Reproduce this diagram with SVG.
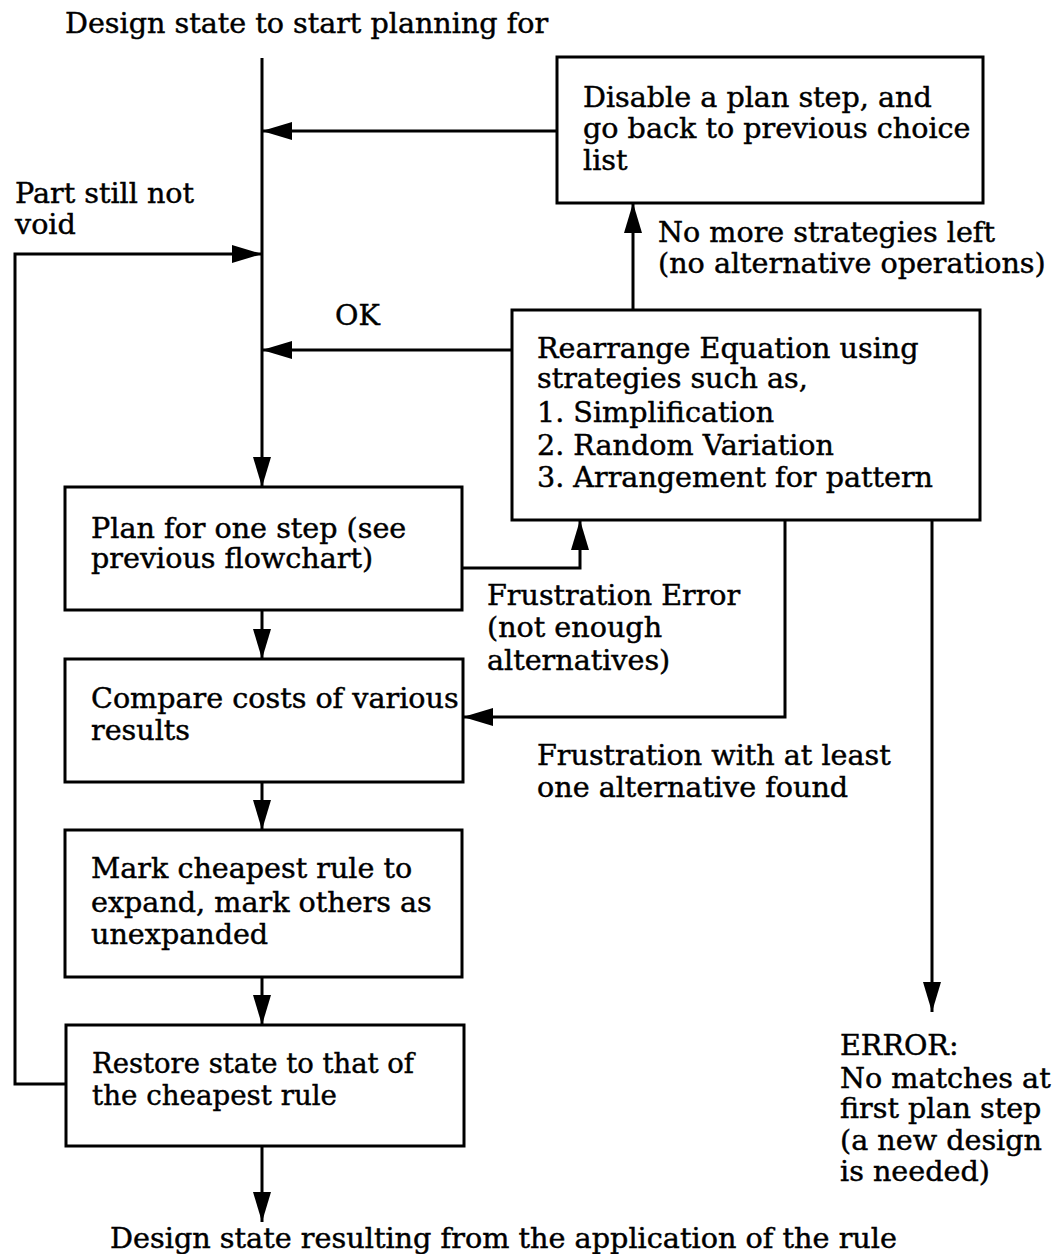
<svg xmlns="http://www.w3.org/2000/svg" width="1052" height="1254" viewBox="0 0 1052 1254">
  <defs>
    <marker id="arrow" markerUnits="userSpaceOnUse" markerWidth="30" markerHeight="18" refX="30" refY="9" orient="auto">
      <path d="M0,0 L30,9 L0,18 z" fill="#000"/>
    </marker>
    <style>
      .box { fill: #fff; stroke: #000; stroke-width: 3; }
      .wire { fill: none; stroke: #000; stroke-width: 3; }
      .arr { marker-end: url(#arrow); }
      text { font-family: "DejaVu Serif", "Liberation Serif", serif; font-size: 28.6px; fill: #000; stroke: #000; stroke-width: 0.45; }
    </style>
  </defs>
  <rect width="1052" height="1254" fill="#fff"/>

  <!-- connectors -->
  <g id="connectors">
    <path class="wire arr" d="M262,58 V487"/>
    <path class="wire arr" d="M557,131 H262"/>
    <path class="wire arr" d="M633,310 V203"/>
    <path class="wire arr" d="M512,350 H262"/>
    <path class="wire arr" d="M462,568 H580 V520"/>
    <path class="wire arr" d="M785,520 V717 H463"/>
    <path class="wire arr" d="M932,520 V1012"/>
    <path class="wire arr" d="M262,610 V659"/>
    <path class="wire arr" d="M262,782 V830"/>
    <path class="wire arr" d="M262,977 V1025"/>
    <path class="wire arr" d="M262,1146 V1222"/>
    <path class="wire arr" d="M66,1084 H15 V254 H262"/>
  </g>

  <!-- free labels -->
  <g id="labels">
    <text x="65" y="33">Design state to start planning for</text>
    <text x="15" y="203">Part still not</text>
    <text x="15" y="234">void</text>
    <text x="658" y="242">No more strategies left</text>
    <text x="658" y="273">(no alternative operations)</text>
    <text x="335" y="325">OK</text>
    <text x="487" y="605">Frustration Error</text>
    <text x="487" y="637">(not enough</text>
    <text x="487" y="670">alternatives)</text>
    <text x="537" y="765">Frustration with at least</text>
    <text x="537" y="797">one alternative found</text>
    <text x="840" y="1055">ERROR:</text>
    <text x="840" y="1088">No matches at</text>
    <text x="840" y="1118">first plan step</text>
    <text x="840" y="1150">(a new design</text>
    <text x="840" y="1181">is needed)</text>
    <text x="110" y="1248" textLength="787" lengthAdjust="spacingAndGlyphs">Design state resulting from the application of the rule</text>
  </g>

  <g id="disable">
    <rect class="box" x="557" y="57" width="426" height="146"/>
    <text x="583" y="107">Disable a plan step, and</text>
    <text x="583" y="138">go back to previous choice</text>
    <text x="583" y="170">list</text>
  </g>

  <g id="rearrange">
    <rect class="box" x="512" y="310" width="468" height="210"/>
    <text x="537" y="358">Rearrange Equation using</text>
    <text x="537" y="388">strategies such as,</text>
    <text x="537" y="422">1. Simplification</text>
    <text x="537" y="455">2. Random Variation</text>
    <text x="537" y="487">3. Arrangement for pattern</text>
  </g>

  <g id="plan">
    <rect class="box" x="65" y="487" width="397" height="123"/>
    <text x="91" y="538">Plan for one step (see</text>
    <text x="91" y="568">previous flowchart)</text>
  </g>

  <g id="compare">
    <rect class="box" x="65" y="659" width="398" height="123"/>
    <text x="91" y="708">Compare costs of various</text>
    <text x="91" y="740">results</text>
  </g>

  <g id="mark">
    <rect class="box" x="65" y="830" width="397" height="147"/>
    <text x="91" y="878">Mark cheapest rule to</text>
    <text x="91" y="912">expand, mark others as</text>
    <text x="91" y="944">unexpanded</text>
  </g>

  <g id="restore">
    <rect class="box" x="66" y="1025" width="398" height="121"/>
    <text x="92" y="1073" textLength="322" lengthAdjust="spacingAndGlyphs">Restore state to that of</text>
    <text x="92" y="1105" textLength="245" lengthAdjust="spacingAndGlyphs">the cheapest rule</text>
  </g>
</svg>
